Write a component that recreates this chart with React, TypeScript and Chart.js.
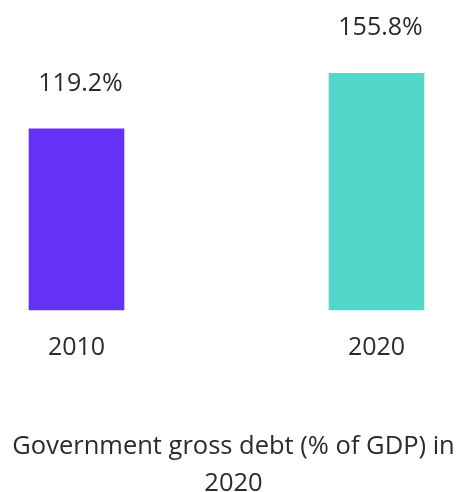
import React, { useEffect, useRef } from "react";
import { Chart, registerables } from "chart.js";

Chart.register(...registerables);

const categories = ["2010", "2020"];
const debtValues = [119.2, 155.8];
const valueLabels = ["119.2%", "155.8%"];
const barColors = ["#6431F7", "#54D7CA"];
const titleLines = ["Government gross debt (% of GDP) in", "2020"];

const FONT = "'Open Sans', 'Noto Sans', sans-serif";
const TEXT_COLOR = "#2b2b2b";

const overlayPlugin = {
  id: "overlayText",
  afterDatasetsDraw(chart: any) {
    const ctx = chart.ctx;
    const meta = chart.getDatasetMeta(0);
    ctx.save();
    ctx.fillStyle = TEXT_COLOR;
    ctx.font = `25px ${FONT}`;
    ctx.textAlign = "center";
    ctx.textBaseline = "middle";
    meta.data.forEach((bar: any, i: number) => {
      ctx.fillText(valueLabels[i], bar.x + 4, bar.y - 45);
    });
    ctx.font = `25.5px ${FONT}`;
    titleLines.forEach((line, i) => {
      ctx.fillText(line, 233.5, 447 + i * 37);
    });
    ctx.restore();
  },
};

export default function App() {
  const canvasRef = useRef<HTMLCanvasElement | null>(null);

  useEffect(() => {
    document.body.style.margin = "0";
    const canvas = canvasRef.current;
    if (!canvas) return;
    const chart = new Chart(canvas, {
      type: "bar",
      data: {
        labels: categories,
        datasets: [
          {
            data: debtValues,
            backgroundColor: barColors,
            barThickness: 95,
            clip: false as any,
          },
        ],
      },
      options: {
        animation: false,
        responsive: false,
        maintainAspectRatio: false,
        layout: { padding: { left: 76.5, right: 82.5, top: 0, bottom: 0 } },
        plugins: {
          legend: { display: false },
          title: { display: false },
          tooltip: { enabled: false },
        },
        scales: {
          x: {
            offset: false,
            grid: { display: false, drawTicks: false },
            border: { display: false },
            ticks: {
              color: TEXT_COLOR,
              font: { family: FONT, size: 25 },
              padding: 23,
              maxRotation: 0,
              autoSkip: false,
            },
            afterFit: (scale: any) => {
              scale.height = 182;
            },
          },
          y: {
            display: false,
            min: 0,
            max: 204,
          },
        },
      },
      plugins: [overlayPlugin],
    });
    return () => chart.destroy();
  }, []);

  return (
    <div style={{ position: "absolute", left: 0, top: 0, width: 459, height: 492 }}>
      <canvas ref={canvasRef} width={459} height={492} style={{ width: 459, height: 492 }} />
    </div>
  );
}
